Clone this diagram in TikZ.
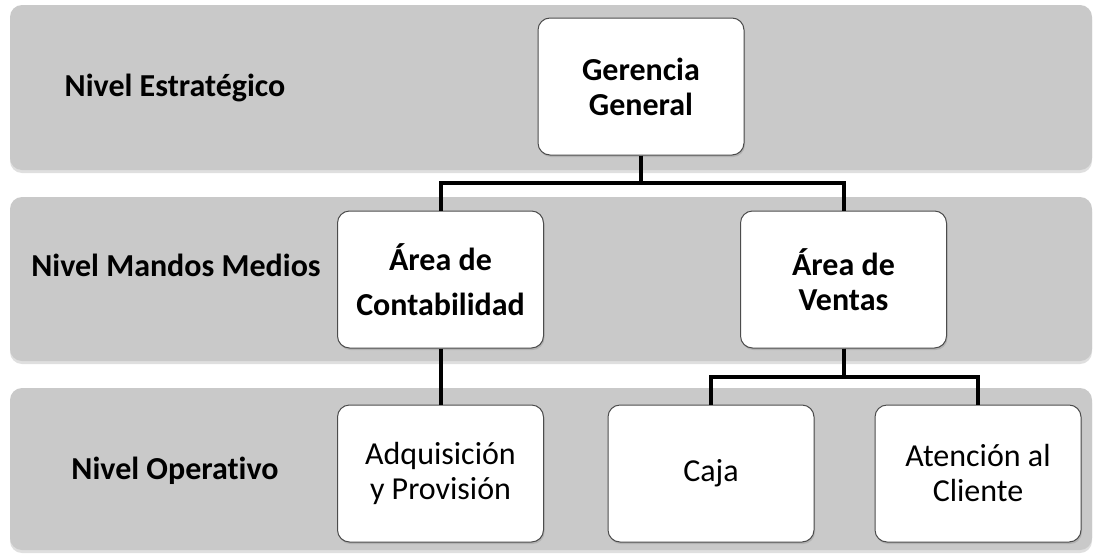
\documentclass[tikz,border=0pt]{standalone}
\usepackage{fontspec}
\setmainfont{Carlito}[Ligatures=NoCommon]
\usetikzlibrary{positioning,shadows}
\tikzset{LevelBand/.style={%
    fill=black!21,%
    rounded corners=12pt,%
    drop shadow={opacity=0.25,shadow xshift=0pt,shadow yshift=-3pt},%
}}
\tikzset{LevelLabel/.style={%
    anchor=base,%
    inner sep=0pt,%
    font=\fontsize{32}{35}\selectfont\bfseries,%
}}
\tikzset{UnitBox/.style={%
    shape=rectangle,%
    draw=black!70,%
    fill=white,%
    rounded corners=12pt,%
    line width=1pt,%
    minimum width=206pt,%
    minimum height=137pt,%
    inner sep=4pt,%
    align=center,%
    font=\fontsize{32}{35}\selectfont,%
    drop shadow={opacity=0.3,shadow xshift=1pt,shadow yshift=-2pt},%
}}
\tikzset{HeadBox/.style={%
    UnitBox,%
    font=\fontsize{32}{35}\selectfont\bfseries,%
}}
\tikzset{BranchEdge/.style={%
    draw=black,%
    line width=4pt,%
}}

\begin{document}
\begin{tikzpicture}[x=1pt,y=-1pt]
    \path[fill=white,use as bounding box] (0,0) rectangle (1094,554);

    % level bands
    \fill[LevelBand] (10,5) rectangle (1092,170);
    \fill[LevelBand] (10,197) rectangle (1092,361);
    \fill[LevelBand] (10,388) rectangle (1092,550);

    \node[LevelLabel] (lvlEst) at (175,96) {Nivel Estratégico};
    \node[LevelLabel] (lvlMed) at (176,276) {Nivel Mandos Medios};
    \node[LevelLabel] (lvlOpe) at (175,479) {Nivel Operativo};

    % units
    \node[HeadBox] (gg) at (641,86.5) {Gerencia\\General};
    \node[HeadBox, below=55pt of gg, xshift=-200.5pt] (cont) {Área de\\[10pt]Contabilidad};
    \node[HeadBox, right=196pt of cont] (ventas) {Área de\\Ventas};
    \node[UnitBox, below=56pt of cont] (adq) {Adquisición\\y Provisión};
    \node[UnitBox, below=56pt of ventas, xshift=-132.5pt] (caja) {Caja};
    \node[UnitBox, right=60pt of caja] (atencion) {Atención al\\Cliente};

    \draw[BranchEdge] (gg.south) -- ++(0,27) -| (cont.north);
    \draw[BranchEdge] (gg.south) -- ++(0,27) -| (ventas.north);
    \draw[BranchEdge] (cont.south) -- (cont.south |- adq.north);
    \draw[BranchEdge] (ventas.south) -- ++(0,28) -| (caja.north);
    \draw[BranchEdge] (ventas.south) -- ++(0,28) -| (atencion.north);
\end{tikzpicture}
\end{document}
